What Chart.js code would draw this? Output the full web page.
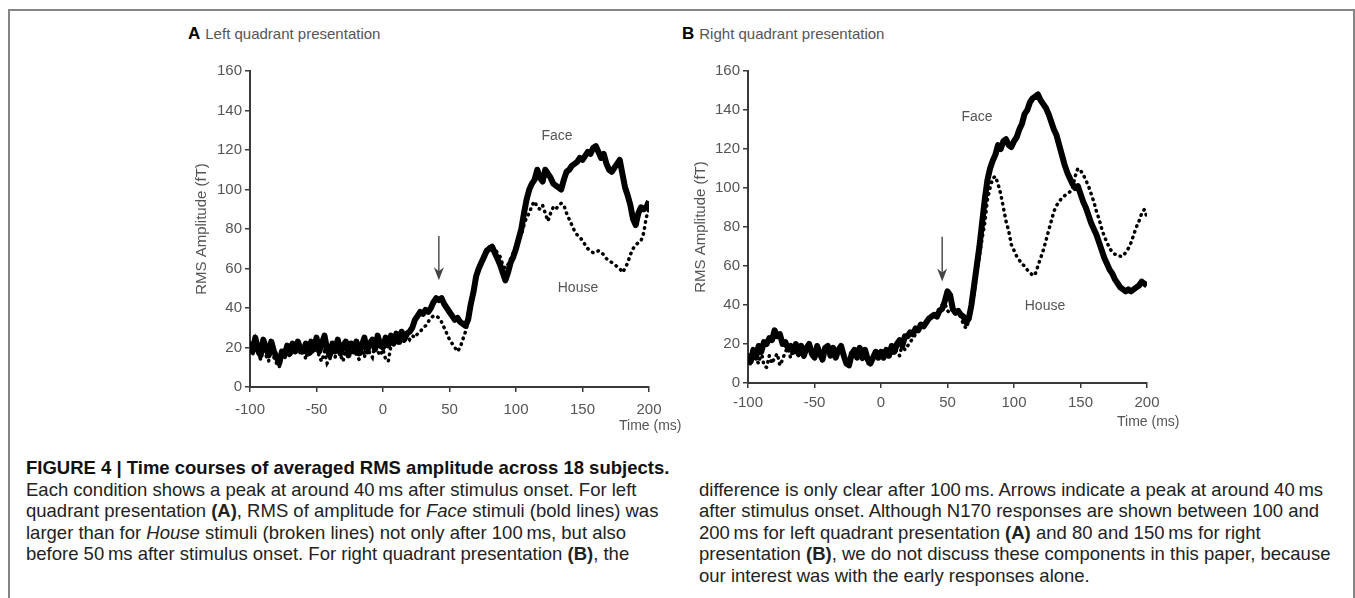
<!DOCTYPE html>
<html>
<head>
<meta charset="utf-8">
<script src="https://cdn.jsdelivr.net/npm/chart.js@4.4.1/dist/chart.umd.min.js"></script>
<style>
  body { margin: 0; background: #fff; }
  #page { position: relative; width: 1355px; height: 598px; overflow: hidden; font-family: "Liberation Sans", Arial, sans-serif; }
  #frame { position: absolute; left: 8px; top: 9px; width: 1343px; height: 620px; border: 2px solid #858585; }
  canvas { position: absolute; }
  .ttl { position: absolute; font-size: 15px; color: #555; white-space: nowrap; }
  .ttl b { color: #000; font-size: 17px; margin-right: 5px; }
  .unit { position: absolute; font-size: 14px; color: #555; }
  .cap { position: absolute; font-family: "Liberation Sans", Arial, sans-serif; font-size: 18.5px; line-height: 21.5px; color: #222; white-space: nowrap; }
  .cap .h { font-weight: bold; color: #111; }
</style>
</head>
<body>
<div id="page">
  <div id="frame"></div>
  <div class="ttl" style="left:188px;top:24px"><b>A</b>Left quadrant presentation</div>
  <div class="ttl" style="left:682px;top:24px"><b>B</b>Right quadrant presentation</div>
  <canvas id="chartA" width="520" height="400" style="left:160px;top:50px"></canvas>
  <canvas id="chartB" width="510" height="400" style="left:670px;top:50px"></canvas>
  <div class="unit" style="left:619px;top:417px">Time (ms)</div>
  <div class="unit" style="left:1117px;top:413px">Time (ms)</div>
  <div class="cap" style="left:26px;top:457px">
    <div class="h">FIGURE 4 | Time courses of averaged RMS amplitude across 18 subjects.</div>
    <div>Each condition shows a peak at around 40&thinsp;ms after stimulus onset. For left</div>
    <div>quadrant presentation <b>(A)</b>, RMS of amplitude for <i>Face</i> stimuli (bold lines) was</div>
    <div>larger than for <i>House</i> stimuli (broken lines) not only after 100&thinsp;ms, but also</div>
    <div>before 50&thinsp;ms after stimulus onset. For right quadrant presentation <b>(B)</b>, the</div>
  </div>
  <div class="cap" style="left:699px;top:478.5px">
    <div>difference is only clear after 100&thinsp;ms. Arrows indicate a peak at around 40&thinsp;ms</div>
    <div>after stimulus onset. Although N170 responses are shown between 100 and</div>
    <div>200&thinsp;ms for left quadrant presentation <b>(A)</b> and 80 and 150&thinsp;ms for right</div>
    <div>presentation <b>(B)</b>, we do not discuss these components in this paper, because</div>
    <div>our interest was with the early responses alone.</div>
  </div>
</div>
<script>
// time axis (ms), one sample every 2 ms
var times = [
  -100, -98, -96, -94, -92, -90, -88, -86, -84, -82,
  -80, -78, -76, -74, -72, -70, -68, -66, -64, -62,
  -60, -58, -56, -54, -52, -50, -48, -46, -44, -42,
  -40, -38, -36, -34, -32, -30, -28, -26, -24, -22,
  -20, -18, -16, -14, -12, -10, -8, -6, -4, -2,
  0, 2, 4, 6, 8, 10, 12, 14, 16, 18,
  20, 22, 24, 26, 28, 30, 32, 34, 36, 38,
  40, 42, 44, 46, 48, 50, 52, 54, 56, 58,
  60, 62, 64, 66, 68, 70, 72, 74, 76, 78,
  80, 82, 84, 86, 88, 90, 92, 94, 96, 98,
  100, 102, 104, 106, 108, 110, 112, 114, 116, 118,
  120, 122, 124, 126, 128, 130, 132, 134, 136, 138,
  140, 142, 144, 146, 148, 150, 152, 154, 156, 158,
  160, 162, 164, 166, 168, 170, 172, 174, 176, 178,
  180, 182, 184, 186, 188, 190, 192, 194, 196, 198,
  200
];

// RMS amplitude (fT), left quadrant
var faceLeft = [
  23, 18, 25, 19, 16, 24, 20, 16, 23, 18,
  15, 12, 18, 16, 21, 17, 22, 18, 23, 19,
  18, 22, 17, 23, 19, 25, 18, 22, 26, 19,
  16, 22, 18, 24, 17, 21, 23, 16, 22, 18,
  23, 17, 21, 25, 18, 22, 24, 19, 26, 21,
  20, 25, 21, 26, 22, 27, 23, 28, 24, 27,
  28, 30, 34, 36, 38, 37, 39, 38, 40, 43,
  45, 44, 45, 42, 40, 38, 36, 34, 35, 33,
  32, 31, 34, 42, 48, 56, 60, 63, 66, 69,
  70, 71, 68, 65, 62, 58, 54, 58, 63, 66,
  70, 75, 80, 88, 95, 100, 103, 105, 110, 106,
  104, 110, 108, 106, 103, 102, 101, 100, 105, 109,
  110, 112, 113, 114, 116, 115, 117, 119, 118, 121,
  122, 119, 116, 118, 113, 110, 109, 111, 113, 115,
  108, 101, 97, 92, 85, 82, 88, 91, 90, 91,
  94
];
var houseLeft = [
  21, 16, 23, 17, 14, 22, 16, 13, 20, 15,
  12, 10, 16, 14, 20, 15, 21, 17, 22, 16,
  19, 14, 21, 16, 20, 23, 15, 13, 18, 12,
  14, 19, 15, 21, 16, 13, 20, 15, 19, 22,
  16, 14, 20, 15, 21, 17, 15, 22, 18, 16,
  19, 14, 13, 21, 23, 25, 21, 24, 23, 26,
  24, 26, 25, 27, 28, 30, 31, 33, 35, 36,
  36, 35, 33, 30, 27, 24, 22, 20, 18, 20,
  24, 28, 33, 40, 48, 56, 60, 64, 67, 70,
  71, 72, 70, 68, 66, 62, 60, 62, 65, 68,
  70, 74, 77, 82, 86, 88, 92, 94, 91, 90,
  92, 88, 84, 88, 91, 90, 92, 93, 92, 88,
  85, 82, 79, 77, 76, 74, 72, 70, 69, 68,
  68, 69, 68, 67, 65, 64, 63, 62, 61, 60,
  58, 60, 63, 67, 70, 72, 73, 74, 78, 86,
  90
];

// RMS amplitude (fT), right quadrant
var faceRight = [
  15, 11, 17, 13, 19, 16, 21, 20, 23, 22,
  27, 24, 25, 20, 21, 18, 19, 16, 20, 15,
  19, 14, 18, 20, 15, 13, 19, 15, 12, 18,
  19, 14, 18, 13, 17, 19, 14, 10, 9, 15,
  17, 13, 18, 13, 17, 12, 10, 13, 16, 13,
  16, 13, 17, 14, 19, 16, 20, 22, 19, 24,
  24, 26, 25, 28, 27, 30, 29, 31, 33, 34,
  35, 34, 37, 38, 42, 47, 45, 38, 36, 37,
  35, 34, 31, 33, 40, 50, 60, 70, 82, 94,
  104, 110, 114, 117, 122, 120, 124, 125, 122, 121,
  124, 126, 130, 133, 138, 140, 144, 146, 147, 148,
  145, 143, 141, 138, 134, 130, 127, 122, 117, 112,
  108, 105, 102, 100, 101, 97, 93, 90, 86, 82,
  79, 76, 72, 68, 64, 61, 58, 56, 53, 51,
  49, 48, 47, 48, 47, 48, 49, 50, 52, 51,
  50
];
var houseRight = [
  13, 9, 15, 12, 10, 16, 9, 8, 14, 10,
  13, 15, 9, 12, 16, 18, 13, 17, 19, 14,
  18, 13, 17, 19, 14, 12, 18, 14, 11, 17,
  18, 13, 17, 12, 16, 18, 13, 11, 10, 14,
  16, 13, 17, 12, 16, 11, 13, 12, 15, 14,
  15, 17, 14, 18, 15, 19, 16, 14, 20, 17,
  19, 21, 23, 25, 27, 28, 30, 31, 33, 34,
  35, 37, 38, 40, 41, 37, 36, 38, 37, 36,
  34, 30, 28, 32, 38, 46, 56, 65, 74, 82,
  94, 100, 105, 106, 102, 97, 90, 83, 78, 71,
  68, 65, 63, 61, 60, 58, 57, 55, 56, 60,
  64, 68, 73, 78, 83, 88, 91, 93, 95, 96,
  97, 98, 100, 106, 110, 109, 107, 104, 101, 97,
  93, 88, 84, 79, 75, 72, 69, 67, 66, 66,
  65, 65, 67, 69, 72, 76, 80, 83, 87, 89,
  85
];

var xTicks = [-100, -50, 0, 50, 100, 150, 200];
var yTicks = [0, 20, 40, 60, 80, 100, 120, 140, 160];

// arrow: [time, top value, tip value]; labels: [text, time, value]
var arrowLeft = [42, 76.5, 54];
var arrowRight = [46, 75, 52];
var labelsLeft = [["Face", 130.8, 127], ["House", 146.6, 50]];
var labelsRight = [["Face", 72.2, 136.4], ["House", 123.3, 39.5]];

function pontos(valores) {
  return times.map((t, i) => ({ x: t, y: valores[i] }));
}

const marcas = {
  id: "marcas",
  afterDatasetsDraw(chart, args, opts) {
    const { ctx } = chart;
    const x = chart.scales.x;
    const y = chart.scales.y;
    ctx.save();
    // seta
    const ax = x.getPixelForValue(opts.arrow[0]);
    const y1 = y.getPixelForValue(opts.arrow[1]);
    const y2 = y.getPixelForValue(opts.arrow[2]);
    ctx.strokeStyle = "#444";
    ctx.fillStyle = "#444";
    ctx.lineWidth = 1.4;
    ctx.beginPath();
    ctx.moveTo(ax, y1);
    ctx.lineTo(ax, y2 - 6);
    ctx.stroke();
    ctx.beginPath();
    ctx.moveTo(ax, y2);
    ctx.lineTo(ax - 5, y2 - 13);
    ctx.lineTo(ax, y2 - 9);
    ctx.lineTo(ax + 5, y2 - 13);
    ctx.closePath();
    ctx.fill();
    // textos Face / House
    ctx.font = "14px 'Liberation Sans', Arial, sans-serif";
    ctx.fillStyle = "#555";
    ctx.textAlign = "center";
    ctx.textBaseline = "middle";
    opts.labels.forEach((l) => {
      ctx.fillText(l[0], x.getPixelForValue(l[1]), y.getPixelForValue(l[2]));
    });
    ctx.restore();
  },
};

function criarGrafico(id, face, house, arrow, labels, dims) {
  const fonte = { family: "'Liberation Sans', Arial, sans-serif", size: 15 };
  return new Chart(document.getElementById(id), {
    type: "line",
    data: {
      datasets: [
        {
          label: "Face",
          data: pontos(face),
          borderColor: "#000",
          borderWidth: 6,
          borderJoinStyle: "round",
          pointRadius: 0,
          tension: 0,
        },
        {
          label: "House",
          data: pontos(house),
          borderColor: "#000",
          borderWidth: 3.5,
          borderDash: [0.5, 5.5],
          borderCapStyle: "round",
          pointRadius: 0,
          tension: 0,
        },
      ],
    },
    options: {
      responsive: false,
      animation: false,
      events: [],
      layout: { padding: { left: 0, top: 21, right: dims.right, bottom: 0 } },
      plugins: {
        legend: { display: false },
        tooltip: { enabled: false },
        marcas: { arrow: arrow, labels: labels },
      },
      scales: {
        x: {
          type: "linear",
          min: -100,
          max: 200,
          afterBuildTicks: (s) => { s.ticks = xTicks.map((v) => ({ value: v })); },
          afterFit: (s) => { s.height = dims.xh; },
          border: { display: true, color: "#3a3a3a", width: 2 },
          grid: { drawOnChartArea: false, drawTicks: true, tickLength: 5, color: "#3a3a3a", lineWidth: 1.5 },
          ticks: { color: "#555", font: fonte, padding: dims.xp, maxRotation: 0 },
        },
        y: {
          min: 0,
          max: 160,
          afterBuildTicks: (s) => { s.ticks = yTicks.map((v) => ({ value: v })); },
          afterFit: (s) => { s.width = dims.yw; },
          border: { display: true, color: "#3a3a3a", width: 2 },
          grid: { drawOnChartArea: false, drawTicks: true, tickLength: 5, color: "#3a3a3a", lineWidth: 1.5 },
          ticks: { color: "#555", font: fonte, padding: 3 },
          title: {
            display: true,
            text: "RMS Amplitude (fT)",
            color: "#555",
            font: { family: "'Liberation Sans', Arial, sans-serif", size: 15 },
            padding: { top: dims.tp, bottom: 0 },
          },
        },
      },
    },
    plugins: [marcas],
  });
}

const chartEsquerda = criarGrafico("chartA", faceLeft, houseLeft, arrowLeft, labelsLeft, { right: 31, xh: 63, yw: 90, tp: 33, xp: 9 });
const chartDireita = criarGrafico("chartB", faceRight, houseRight, arrowRight, labelsRight, { right: 33, xh: 67, yw: 78, tp: 22, xp: 6 });
</script>
</body>
</html>
